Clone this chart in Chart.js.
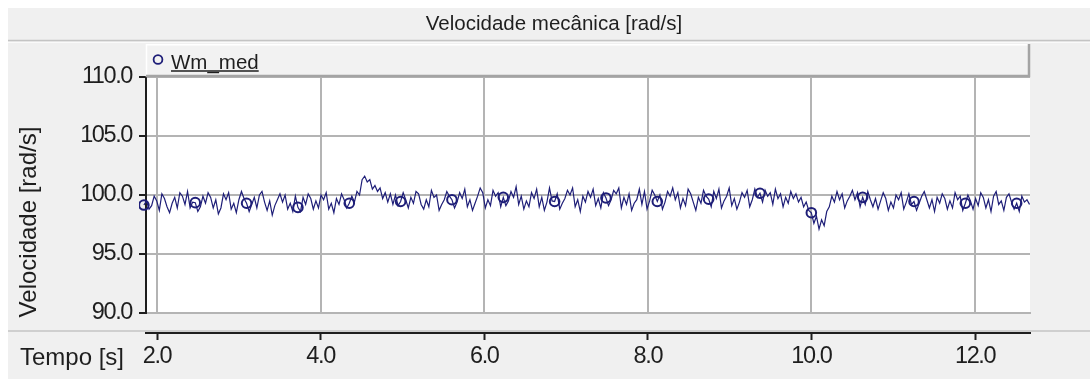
<!DOCTYPE html>
<html>
<head>
<meta charset="utf-8">
<title>Velocidade mecânica</title>
<script src="https://cdn.jsdelivr.net/npm/chart.js@4.4.1/dist/chart.umd.min.js"></script>
<style>
  html, body { margin: 0; padding: 0; background: #ffffff; }
  #wrap { width: 1090px; height: 379px; }
</style>
</head>
<body>
<div id="wrap"><canvas id="c" width="1090" height="379"></canvas></div>
<script>
// Measured mechanical speed Wm_med [rad/s], one sample every dt seconds from t0
const t0 = 1.84;
const dt = 0.03138;
const wmMed = [
  99.15, 99.5, 98.8, 99.1, 99.9, 99.5, 98.7, 100.1, 99.7, 99.0, 98.5, 99.3, 99.8, 98.9, 100.2, 99.9, 99.2, 100.3, 98.9, 99.4,
  99.35, 98.6, 99.0, 99.9, 99.3, 100.2, 99.8, 98.9, 99.6, 98.4, 98.9, 100.1, 99.6, 100.2, 98.8, 99.3, 98.5, 99.6, 100.3, 99.7,
  99.3, 98.6, 99.2, 99.8, 98.9, 100.0, 100.3, 99.4, 98.7, 99.5, 98.3, 99.1, 99.6, 100.1, 99.4, 100.0, 98.8, 99.3, 98.6, 99.9,
  98.95, 98.6, 99.8, 99.2, 100.1, 99.7, 98.8, 99.5, 98.9, 100.0, 99.6, 100.2, 98.8, 99.3, 98.5, 99.7, 99.2, 100.1, 99.6, 98.9,
  99.3, 99.9, 99.4, 100.3, 100.0, 101.3, 101.6, 101.1, 101.3, 100.5, 100.8, 100.3, 100.6, 99.7, 100.2, 99.4, 100.1, 99.2, 100.0, 99.1,
  99.45, 100.2, 99.6, 98.9, 99.8, 99.3, 100.3, 100.1, 99.2, 98.8, 99.6, 99.0, 100.4, 99.8, 100.0, 98.7, 99.2, 99.6, 100.3, 99.9,
  99.6, 98.9, 99.4, 100.2, 99.7, 100.5, 99.0, 99.6, 98.7, 99.3, 99.9, 100.6, 100.2, 98.9, 99.6, 99.1, 100.4, 99.9, 100.2, 99.0,
  99.8, 99.1, 99.5, 100.3, 99.8, 100.7, 99.2, 99.9, 98.8, 99.5, 99.0, 100.2, 99.7, 100.5, 99.0, 99.8, 98.7, 99.4, 100.6, 99.5,
  99.45, 100.1, 98.8, 99.3, 99.7, 100.4, 100.0, 100.6, 99.0, 99.6, 98.6, 99.9, 99.4, 100.3, 99.8, 100.5, 99.1, 99.7, 98.9, 100.2,
  99.75, 99.1, 99.6, 100.4, 100.1, 100.6, 98.9, 99.8, 99.2, 100.1, 98.7, 99.3, 99.6, 100.5, 99.2, 100.3, 98.8, 99.5, 100.4, 100.0,
  99.45, 100.0, 98.8, 99.4, 100.3, 99.9, 100.6, 99.6, 100.2, 98.9, 99.7, 99.1, 100.5, 100.1, 99.4, 98.7, 99.8, 99.3, 100.4, 99.9,
  99.65, 99.0, 100.3, 99.7, 100.5, 98.9, 99.5, 99.9, 100.6, 99.1, 99.7, 98.8, 99.4, 100.2, 99.8, 100.4, 99.0, 99.6, 100.5, 99.8,
  100.15, 99.4, 100.4, 99.9, 100.2, 99.2, 100.5, 99.7, 100.1, 99.0, 99.8, 99.3, 100.3, 99.7, 100.1, 99.4, 99.8, 99.0, 99.4, 98.7,
  98.5, 97.6, 98.2, 97.1, 97.9, 97.4, 98.6, 99.0, 99.9, 99.4, 100.3, 99.6, 100.1, 98.9, 99.5, 99.9, 100.4, 99.6, 100.2, 99.0,
  99.8, 99.2, 100.3, 99.6, 99.0, 99.7, 98.8, 99.5, 100.2, 99.7, 98.7, 99.4, 98.9, 100.0, 99.6, 100.2, 98.8, 99.4, 100.1, 99.2,
  99.45, 98.7, 99.3, 99.9, 100.3, 99.6, 98.9, 99.6, 98.6, 99.8, 99.3, 100.1, 99.7, 98.8, 99.5, 98.9, 100.2, 99.6, 99.9, 98.7,
  99.3, 100.0, 99.5, 98.8, 99.7, 99.1, 100.2, 99.8, 98.9, 99.6, 98.6, 99.9, 100.3, 99.2, 99.5, 98.7, 99.8, 100.1, 99.4, 98.8,
  99.3, 98.6, 99.9, 99.4, 99.6, 99.2
];
const times = wmMed.map((_, i) => t0 + i * dt);

// Axis ticks and range
const xTickValues = [2, 4, 6, 8, 10, 12];
const yTickValues = [90, 95, 100, 105, 110];
const xRange = [1.8655, 12.672];
const yRange = [90, 110];

const seriesName = 'Wm_med';
const chartTitle = 'Velocidade mecânica [rad/s]';
const yTitle = 'Velocidade [rad/s]';
const xTitle = 'Tempo [s]';

const FONT = "'Liberation Sans', Arial, sans-serif";
const INK = '#1e1e1e';
const NAVY = 'rgb(30,30,120)';
const GRID = '#b4b4b4';
const PANEL = '#f0f0f0';
const MARK_EVERY = 20;

const frame = {
  id: 'frame',
  beforeDraw(chart) {
    const { ctx, width: W, height: H, chartArea: a } = chart;
    ctx.save();
    ctx.fillStyle = '#ffffff';
    ctx.fillRect(0, 0, W, H);
    ctx.fillStyle = PANEL;
    ctx.fillRect(8, 8, W - 8, H - 8);
    // panel separators
    ctx.strokeStyle = '#c4c4c4';
    ctx.lineWidth = 1.5;
    ctx.beginPath();
    ctx.moveTo(8, 40.5); ctx.lineTo(W, 40.5);
    ctx.moveTo(8, 331); ctx.lineTo(W, 331);
    ctx.stroke();
    ctx.strokeStyle = '#fafafa';
    ctx.lineWidth = 1;
    ctx.beginPath();
    ctx.moveTo(8, 42.5); ctx.lineTo(W, 42.5);
    ctx.stroke();
    // plot background
    ctx.fillStyle = '#ffffff';
    ctx.fillRect(a.left, a.top, a.right - a.left, a.bottom - a.top);
    ctx.restore();
    // tick labels use a slightly tightened spacing
    ctx.letterSpacing = '-1.4px';
  },
  afterDraw(chart) {
    const { ctx, chartArea: a } = chart;
    ctx.letterSpacing = '0px';
    ctx.save();
    // title
    ctx.fillStyle = INK;
    ctx.font = '20.5px ' + FONT;
    ctx.textAlign = 'center';
    ctx.textBaseline = 'middle';
    ctx.fillText(chartTitle, 554, 24);

    // legend box
    const lx = a.left, ly = 44, lw = a.right - a.left, lh = a.top - 44;
    ctx.fillStyle = '#f2f2f2';
    ctx.fillRect(lx, ly, lw, lh);
    ctx.strokeStyle = '#ffffff';
    ctx.lineWidth = 1.5;
    ctx.beginPath();
    ctx.moveTo(lx + 0.5, ly + lh); ctx.lineTo(lx + 0.5, ly + 0.75); ctx.lineTo(lx + lw, ly + 0.75);
    ctx.stroke();
    ctx.strokeStyle = '#a4a4a4';
    ctx.lineWidth = 2.5;
    ctx.beginPath();
    ctx.moveTo(lx, ly + lh - 1); ctx.lineTo(lx + lw - 1, ly + lh - 1); ctx.lineTo(lx + lw - 1, ly);
    ctx.stroke();
    // legend entry
    ctx.strokeStyle = NAVY;
    ctx.lineWidth = 1.8;
    ctx.beginPath();
    ctx.arc(158, 59.5, 4.4, 0, Math.PI * 2);
    ctx.stroke();
    ctx.fillStyle = INK;
    ctx.font = '20.5px ' + FONT;
    ctx.textAlign = 'left';
    ctx.textBaseline = 'alphabetic';
    ctx.fillText(seriesName, 171, 68.5);
    const tw = ctx.measureText(seriesName).width;
    ctx.strokeStyle = INK;
    ctx.lineWidth = 1.5;
    ctx.beginPath();
    ctx.moveTo(171, 71); ctx.lineTo(171 + tw, 71);
    ctx.stroke();

    // axis titles
    ctx.font = '24px ' + FONT;
    ctx.fillStyle = INK;
    ctx.textAlign = 'left';
    ctx.textBaseline = 'alphabetic';
    ctx.fillText(xTitle, 20, 364.5);
    ctx.translate(36, 222);
    ctx.rotate(-Math.PI / 2);
    ctx.textAlign = 'center';
    ctx.fillText(yTitle, 0, 0);
    ctx.restore();
  }
};

new Chart(document.getElementById('c'), {
  type: 'line',
  data: {
    datasets: [{
      label: seriesName,
      data: wmMed.map((v, i) => ({ x: times[i], y: v })),
      xAxisID: 'x',
      yAxisID: 'y',
      borderColor: NAVY,
      borderWidth: 1.2,
      tension: 0,
      fill: false,
      pointStyle: 'circle',
      pointRadius: (c) => (c.dataIndex % MARK_EVERY === 0 ? 4.8 : 0),
      pointHoverRadius: 0,
      pointBorderWidth: 2,
      pointBorderColor: NAVY,
      pointBackgroundColor: 'rgba(0,0,0,0)',
      clip: { left: 7, top: 0, right: 0, bottom: 0 }
    }]
  },
  options: {
    responsive: false,
    devicePixelRatio: 1,
    animation: false,
    events: [],
    layout: { padding: { left: 8, top: 77, right: 60, bottom: 0 } },
    plugins: {
      legend: { display: false },
      title: { display: false },
      tooltip: { enabled: false }
    },
    scales: {
      x: {
        type: 'linear',
        position: 'bottom',
        weight: 0,
        min: xRange[0],
        max: xRange[1],
        afterBuildTicks: (s) => { s.ticks = xTickValues.map((v) => ({ value: v })); },
        afterFit: (s) => { s.height = 20; },
        grid: { color: GRID, lineWidth: 2, drawTicks: false },
        border: { display: true, color: GRID, width: 2 },
        ticks: { display: false }
      },
      x2: {
        type: 'linear',
        position: 'bottom',
        weight: 1,
        min: xRange[0],
        max: xRange[1],
        afterBuildTicks: (s) => { s.ticks = xTickValues.map((v) => ({ value: v })); },
        afterFit: (s) => { s.height = 46; },
        grid: { drawOnChartArea: false, drawTicks: true, tickLength: 7, tickColor: INK, tickWidth: 2 },
        border: { display: true, color: INK, width: 2 },
        ticks: {
          color: INK,
          padding: 2,
          maxRotation: 0,
          autoSkip: false,
          font: { family: FONT, size: 23.5 },
          callback: (v) => Number(v).toFixed(1)
        }
      },
      y: {
        type: 'linear',
        position: 'left',
        min: yRange[0],
        max: yRange[1],
        afterBuildTicks: (s) => { s.ticks = yTickValues.map((v) => ({ value: v })); },
        afterFit: (s) => { s.width = 138; },
        grid: { color: GRID, lineWidth: 2, drawTicks: true, tickLength: 7, tickColor: INK, tickWidth: 2 },
        border: { display: true, color: INK, width: 2 },
        ticks: {
          color: INK,
          padding: 7,
          autoSkip: false,
          font: { family: FONT, size: 23.5 },
          callback: (v) => Number(v).toFixed(1)
        }
      }
    }
  },
  plugins: [frame]
});
</script>
</body>
</html>
